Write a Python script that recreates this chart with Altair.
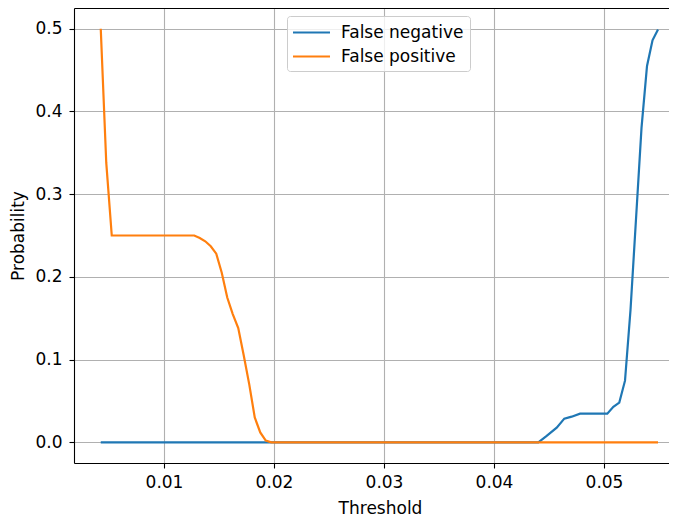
import altair as alt
import pandas as pd

# False negative curve (threshold, probability)
fn_x = [0.00425, 0.04403, 0.04479, 0.04570, 0.04639, 0.04706, 0.04782, 0.05030,
        0.05085, 0.05139, 0.05191, 0.05241, 0.05291, 0.05341, 0.05391, 0.05441, 0.05491]
fn_y = [0.0, 0.0, 0.0077, 0.0177, 0.0286, 0.031, 0.0347, 0.0347,
        0.043, 0.048, 0.0745, 0.16, 0.27, 0.38, 0.455, 0.486, 0.499]

# False positive curve
fp_x = [0.00425, 0.00475, 0.00525, 0.01225, 0.01275, 0.01325, 0.01375, 0.01425,
        0.01475, 0.01525, 0.01575, 0.01625, 0.01675, 0.01725, 0.01775, 0.01825,
        0.01875, 0.01925, 0.01975, 0.05491]
fp_y = [0.5, 0.338, 0.25, 0.25, 0.25, 0.247, 0.243, 0.237,
        0.228, 0.205, 0.175, 0.155, 0.138, 0.105, 0.07, 0.03,
        0.012, 0.002, 0.0, 0.0]

series_names = ["False negative", "False positive"]
series_colors = ["#1f77b4", "#ff7f0e"]
x_ticks = [0.01, 0.02, 0.03, 0.04, 0.05]
y_ticks = [0.0, 0.1, 0.2, 0.3, 0.4, 0.5]

rows = []
for i, (x, y) in enumerate(zip(fn_x, fn_y)):
    rows.append({"Threshold": x, "Probability": y, "series": series_names[0], "order": i})
for i, (x, y) in enumerate(zip(fp_x, fp_y)):
    rows.append({"Threshold": x, "Probability": y, "series": series_names[1], "order": i})
df = pd.DataFrame(rows)

FONT = "DejaVu Sans"
FS = 17

xscale = alt.Scale(domain=[0.001818, 0.055909], nice=False, zero=False)
yscale = alt.Scale(domain=[-0.025, 0.525], nice=False, zero=False)

base = alt.Chart(df)

lines = base.mark_line(strokeWidth=2.2, clip=True).encode(
    x=alt.X("Threshold:Q", scale=xscale,
            axis=alt.Axis(values=x_ticks, format=".2f", title="Threshold",
                          grid=True, gridColor="#b0b0b0", gridWidth=1.1,
                          domainColor="black", domainWidth=1.1,
                          tickColor="black", tickWidth=1.1, tickSize=5,
                          labelPadding=6, labelFont=FONT, labelFontSize=FS,
                          labelColor="black", titleFont=FONT, titleFontSize=FS,
                          titleFontWeight="normal", titleColor="black",
                          titlePadding=10, titleX=306, titleAlign="center")),
    y=alt.Y("Probability:Q", scale=yscale,
            axis=alt.Axis(values=y_ticks, format=".1f", title="Probability",
                          grid=True, gridColor="#b0b0b0", gridWidth=1.1,
                          domainColor="black", domainWidth=1.1,
                          tickColor="black", tickWidth=1.1, tickSize=5,
                          labelPadding=7, labelFont=FONT, labelFontSize=FS,
                          labelColor="black", titleFont=FONT, titleFontSize=FS,
                          titleFontWeight="normal", titleColor="black",
                          titlePadding=7)),
    color=alt.Color("series:N",
                    scale=alt.Scale(domain=series_names, range=series_colors),
                    legend=alt.Legend(title=None, orient="none", legendX=213, legendY=8,
                                      symbolType="M-2,0H2", symbolSize=342,
                                      symbolStrokeWidth=2.2, symbolOffset=8,
                                      labelFont=FONT, labelFontSize=FS,
                                      labelColor="black", labelOffset=19,
                                      rowPadding=5, padding=6,
                                      fillColor="rgba(255,255,255,0.8)",
                                      strokeColor="#cccccc", cornerRadius=3)),
    order="order:Q",
)

top = base.mark_line(opacity=0).encode(
    x=alt.X("Threshold:Q", scale=xscale,
            axis=alt.Axis(orient="top", labels=False, ticks=False, grid=False,
                          domain=True, domainColor="black", domainWidth=1.1,
                          title=None)),
    y=alt.Y("Probability:Q", scale=yscale),
)

chart = alt.layer(lines, top).resolve_axis(x="independent").properties(
    width=595, height=455,
    autosize=alt.AutoSizeParams(type="none"),
    padding={"left": 66, "top": 0, "right": 0, "bottom": 54},
).configure_view(stroke=None)

chart.save("out.html", embed_options={"renderer": "svg", "actions": False})
